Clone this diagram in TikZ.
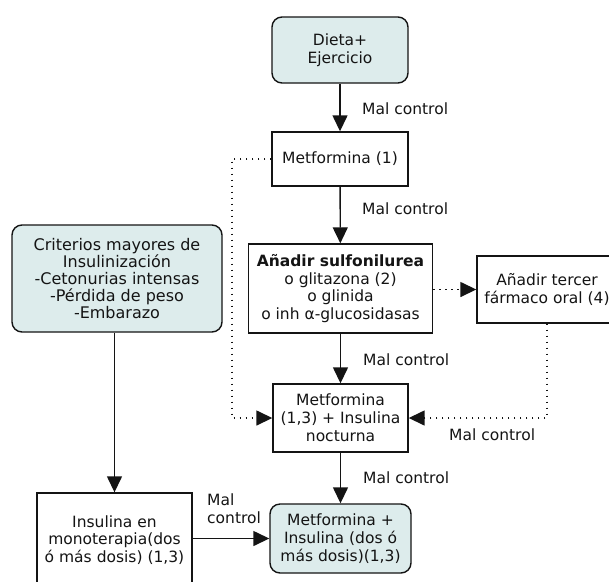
\documentclass[tikz,border=0pt]{standalone}
\usepackage{fontspec}
\setmainfont{DejaVu Sans}
\usetikzlibrary{arrows.meta}
\definecolor{boxfill}{RGB}{221,236,236}
\definecolor{ink}{RGB}{20,20,20}
\begin{document}
\begin{tikzpicture}[x=1pt,y=-1pt,
  every node/.style={text=ink,font=\fontsize{15.5}{17.8}\selectfont},
  plain/.style={draw=ink,line width=1.4pt,fill=white,align=center,inner sep=0pt},
  soft/.style={plain,fill=boxfill,rounded corners=10pt},
  flow/.style={draw=ink,line width=1.4pt,-{Triangle[length=16pt,width=15pt]}},
  alt/.style={draw=ink,line width=1.5pt,dash pattern=on 1.6pt off 4.4pt},
  altarrow/.style={alt,-{Triangle[length=16pt,width=15pt]}},
  tag/.style={anchor=west,align=left,inner sep=0pt}]
\useasboundingbox (0,0) rectangle (609,581);

% boxes
\node[soft,minimum width=136pt,minimum height=66pt] (dieta) at (340,50) {Dieta+\\Ejercicio};
\node[plain,minimum width=136pt,minimum height=54pt] (met1) at (340,159) {Metformina (1)};
\node[plain,minimum width=184pt,minimum height=89pt] (anadir) at (340.5,288.5)
  {\textbf{Añadir sulfonilurea}\\o glitazona (2)\\o glinida\\o inh α-glucosidasas};
\node[plain,minimum width=140pt,minimum height=67pt] (tercer) at (547,289.5) {Añadir tercer\\fármaco oral (4)};
\node[plain,minimum width=135pt,minimum height=68pt] (met2) at (340.5,418) {Metformina\\(1,3) + Insulina\\nocturna};
\node[soft,minimum width=141pt,minimum height=69pt] (met3) at (340.5,538.5) {Metformina +\\Insulina (dos ó\\más dosis)(1,3)};
\node[soft,minimum width=210pt,minimum height=107pt,font=\fontsize{16}{17.2}\selectfont] (crit) at (117,278.5)
  {Criterios mayores de\\Insulinización\\-Cetonurias intensas\\-Pérdida de peso\\-Embarazo};
\node[plain,minimum width=155pt,minimum height=94pt] (insul) at (114.5,540)
  {Insulina en\\monoterapia(dos\\ó más dosis) (1,3)};

% main sequence
\draw[flow] (dieta) -- (met1);
\draw[flow] (met1) -- (anadir);
\draw[flow] (anadir) -- (met2);
\draw[flow] (met2) -- (met3);
\draw[flow] (insul.north |- crit.south) -- (insul.north);
\draw[flow] (insul.east |- met3.west) -- (met3.west);

% alternative routes
\coordinate (lbend) at (232,159);
\draw[altarrow] (met1.west) -- (lbend) |- (met2.west);
\draw[altarrow] (anadir.east |- tercer.west) -- (tercer.west);
\draw[altarrow] (tercer.south) |- (met2.east);

% labels
\node[tag] (l1) at (362,109) {Mal control};
\node[tag] (l2) at (362,209) {Mal control};
\node[tag] (l3) at (363,360) {Mal control};
\node[tag] (l4) at (363,478) {Mal control};
\node[tag] (l5) at (449,435) {Mal control};
\node[tag,font=\fontsize{15.5}{18}\selectfont] (l6) at (207,509) {Mal\\control};
\end{tikzpicture}
\end{document}
